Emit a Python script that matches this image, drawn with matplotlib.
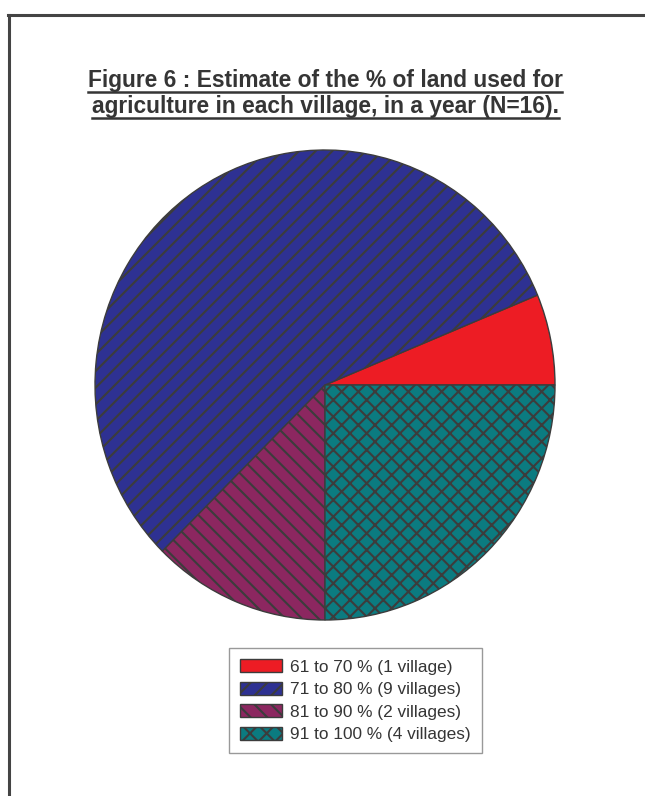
import matplotlib
matplotlib.use("Agg")
import matplotlib.pyplot as plt
from matplotlib.lines import Line2D

plt.rcParams["font.family"] = ["Liberation Sans", "DejaVu Sans"]
plt.rcParams["hatch.linewidth"] = 1.5

# villages per land-use class
labels = ["61 to 70 % (1 village)", "71 to 80 % (9 villages)",
          "81 to 90 % (2 villages)", "91 to 100 % (4 villages)"]
villages = [1, 9, 2, 4]
colors = ["#ED1C24", "#2E3192", "#8C2760", "#0B7B80"]
hatches = ["", "//", "\\\\", "xx"]
title_lines = ["Figure 6 : Estimate of the % of land used for",
               "agriculture in each village, in a year (N=16)."]

W, H = 645, 796
fig = plt.figure(figsize=(W / 100, H / 100), dpi=100)

# pie axes placed in pixel terms
px, py, pw, ph = 95, 150, 460, 470
ax = fig.add_axes([px / W, 1 - (py + ph) / H, pw / W, ph / H])
wedges, _ = ax.pie(villages, colors=colors, startangle=0, counterclock=True,
                   wedgeprops=dict(edgecolor="#3c3c3c", linewidth=1.0))
for w, h in zip(wedges, hatches):
    w.set_hatch(h)
ax.set_aspect("auto")
ax.set_xlim(-1, 1)
ax.set_ylim(-1, 1)
ax.axis("off")

# frame lines: top and left only
fig.add_artist(Line2D([8 / W, 1], [1 - 14.5 / H] * 2, color="#444444", lw=2.2,
                      transform=fig.transFigure, solid_capstyle="projecting"))
fig.add_artist(Line2D([8.5 / W] * 2, [1 - 14.5 / H, 0], color="#444444", lw=2.2,
                      transform=fig.transFigure))

# title, two underlined lines
title_color = "#353535"
texts = []
for line, base in zip(title_lines, [87, 113]):
    t = fig.text(325 / W, 1 - base / H, line, ha="center", va="baseline",
                 fontsize=16.4, fontweight="bold", color=title_color)
    texts.append((t, base))
renderer = fig.canvas.get_renderer()
for t, base in texts:
    bb = t.get_window_extent(renderer)
    y = 1 - (base + 4.5) / H
    fig.add_artist(Line2D([bb.x0 / W, bb.x1 / W], [y, y], color=title_color,
                          lw=1.8, transform=fig.transFigure))

leg = fig.legend(wedges, labels, loc="upper left",
                 bbox_to_anchor=(229 / W, 1 - 648 / H), borderaxespad=0,
                 fontsize=12.4, frameon=True, fancybox=False,
                 edgecolor="#808080", handlelength=2.4, handleheight=0.8,
                 labelspacing=0.4, borderpad=0.65, handletextpad=0.5)
leg.get_frame().set_linewidth(1.0)
for txt in leg.get_texts():
    txt.set_color("#353535")

fig.savefig("out.png", dpi=100)
